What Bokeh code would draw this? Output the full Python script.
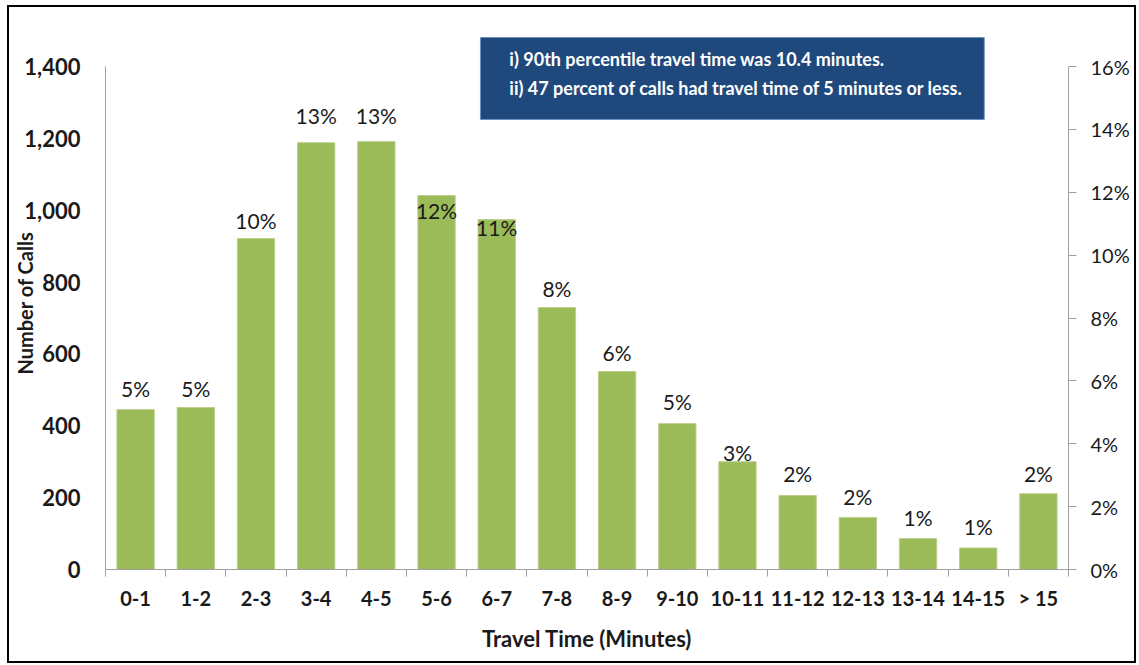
from bokeh.plotting import figure
from bokeh.models import (ColumnDataSource, Range1d, LinearAxis, FixedTicker,
                          NumeralTickFormatter, Label, LabelSet, BoxAnnotation)
from bokeh.core.properties import value
from bokeh.embed import file_html
from bokeh.resources import INLINE

# Travel-time bins and number of calls in each
bins = ["0-1", "1-2", "2-3", "3-4", "4-5", "5-6", "6-7", "7-8",
        "8-9", "9-10", "10-11", "11-12", "12-13", "13-14", "14-15", "> 15"]
calls = [445, 451, 921, 1188, 1191, 1041, 974, 729,
         551, 406, 300, 206, 145, 86, 60, 211]

# how far (px) each percentage label sits above its bar top
label_lift = [21, 19, 18, 27, 26, -15, -8, 19,
              19, 22, 9, 22, 21, 21, 21, 20]

left_ticks = [0, 200, 400, 600, 800, 1000, 1200, 1400]
right_ticks = [0, 0.02, 0.04, 0.06, 0.08, 0.10, 0.12, 0.14, 0.16]

note_lines = ["i) 90th percentile travel time was 10.4 minutes.",
              "ii) 47 percent of calls had travel time of 5 minutes or less."]

total = sum(calls)
pct_labels = [f"{round(100 * c / total):d}%" for c in calls]
centers = [i + 0.5 for i in range(len(bins))]

FONT = "Lato"
BAR = "#9BBB59"
AXIS = "#A0A0A0"
INK = "#1a1a1a"

# axes span 0..1400 calls / 0..16 %; the plotting area reaches a bit higher
# so the note box can sit above the top tick
Y_MAX = 1400
HEADROOM = 533 / 503
src = ColumnDataSource(dict(x=centers, calls=calls, pct=pct_labels, lift=label_lift))

p = figure(width=1125, height=654,
           x_range=Range1d(0, len(bins)), y_range=Range1d(0, Y_MAX * HEADROOM),
           output_backend="svg", toolbar_location=None,
           min_border_left=96, min_border_right=66,
           min_border_top=29, min_border_bottom=92)
# dark frame around the whole chart (outline keeps the canvas size untouched)
p.styles = {"outline": "2px solid #000", "margin-left": "9px", "margin-top": "7px"}
p.outline_line_color = None
p.xgrid.visible = False
p.ygrid.visible = False
p.background_fill_color = "white"
p.border_fill_color = "white"

p.vbar(x="x", top="calls", width=0.62, source=src,
       fill_color=BAR, line_color="#B9D08E", line_width=1)

p.add_layout(LabelSet(x="x", y="calls", text="pct", source=src,
                      y_offset="lift", text_align="center", text_baseline="middle",
                      text_font=value(FONT), text_font_size="21px", text_color=INK))

# category axis: labels under bar centres, tick marks on bin boundaries
xa = p.xaxis[0]
xa.ticker = FixedTicker(ticks=centers, minor_ticks=list(range(len(bins) + 1)))
xa.major_label_overrides = {c: b for c, b in zip(centers, bins)}
xa.major_tick_line_color = None
xa.major_tick_out = 0
xa.minor_tick_in = 0
xa.minor_tick_out = 7
xa.minor_tick_line_color = AXIS
xa.axis_line_color = AXIS
xa.major_label_standoff = 9
xa.major_label_text_font = FONT
xa.major_label_text_font_style = "bold"
xa.major_label_text_font_size = "20px"
xa.major_label_text_color = INK
xa.axis_label = "Travel Time (Minutes)"
xa.axis_label_standoff = 12
xa.axis_label_text_font = FONT
xa.axis_label_text_font_style = "bold"
xa.axis_label_text_font_size = "22px"
xa.axis_label_text_color = INK

ya = p.yaxis[0]
ya.bounds = (0, Y_MAX)
ya.ticker = FixedTicker(ticks=left_ticks, minor_ticks=[])
ya.formatter = NumeralTickFormatter(format="0,0")
ya.major_tick_line_color = None
ya.major_tick_out = 0
ya.minor_tick_line_color = None
ya.axis_line_color = AXIS
ya.major_label_standoff = 25
ya.major_label_text_font = FONT
ya.major_label_text_font_style = "bold"
ya.major_label_text_font_size = "22px"
ya.major_label_text_color = INK
ya.axis_label = "Number of Calls"
ya.axis_label_standoff = -16
ya.axis_label_text_font = FONT
ya.axis_label_text_font_style = "bold"
ya.axis_label_text_font_size = "20px"
ya.axis_label_text_color = INK

# secondary percentage axis on the right
p.extra_y_ranges = {"pct": Range1d(0, 0.16 * HEADROOM)}
ra = LinearAxis(y_range_name="pct", bounds=(0, 0.16),
                ticker=FixedTicker(ticks=right_ticks, minor_ticks=[]),
                formatter=NumeralTickFormatter(format="0%"))
ra.axis_line_color = AXIS
ra.major_tick_line_color = AXIS
ra.major_tick_in = 0
ra.major_tick_out = 8
ra.minor_tick_line_color = None
ra.major_label_standoff = 14
ra.major_label_text_font = FONT
ra.major_label_text_font_size = "20px"
ra.major_label_text_color = INK
p.add_layout(ra, "right")

# summary note box
p.add_layout(BoxAnnotation(left=6.23, right=14.60, bottom=1252.5, top=1480.7,
                           fill_color="#1F497D", fill_alpha=1.0,
                           line_color="#6F8FBF", line_width=1, line_alpha=1.0))
for txt, yy in zip(note_lines, [1419.5, 1341.5]):
    p.add_layout(Label(x=6.71, y=yy, text=txt,
                       text_align="left", text_baseline="middle",
                       text_font=FONT, text_font_style="bold", text_font_size="18px",
                       text_color="white"))

open("out.html", "w").write(file_html(p, INLINE))
